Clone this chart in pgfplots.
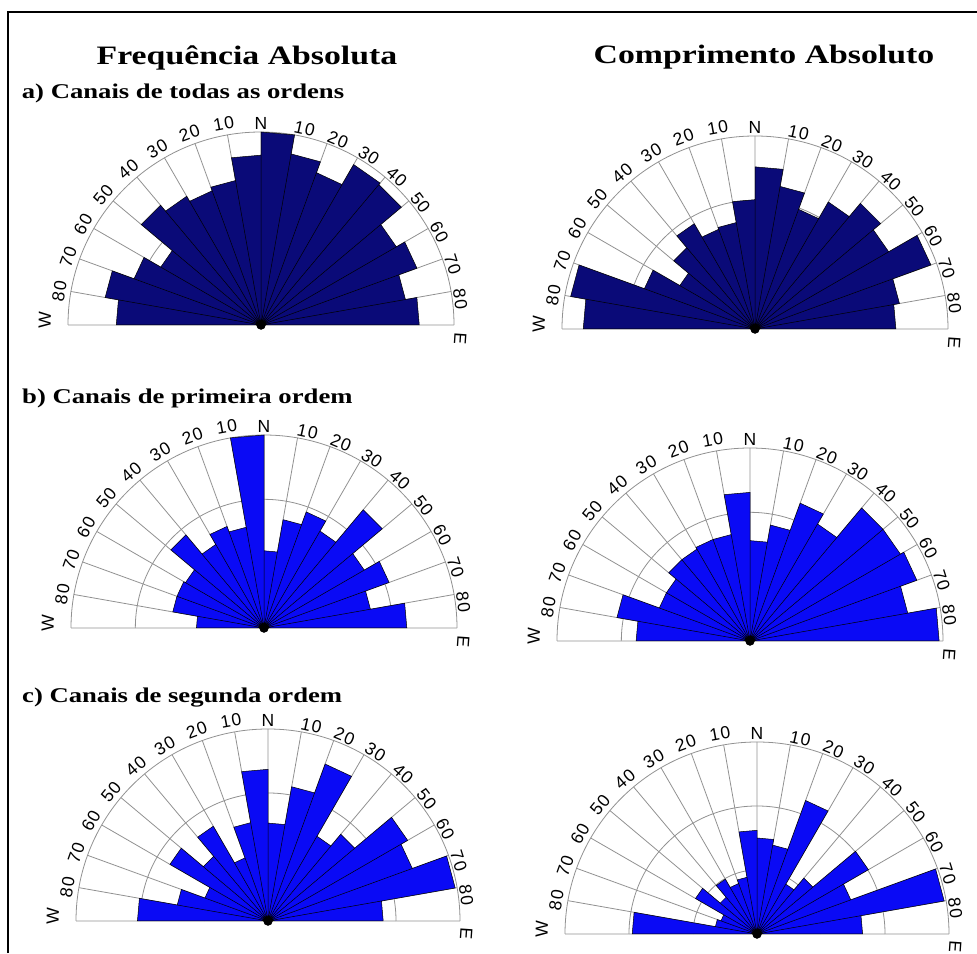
\documentclass[border=0pt]{standalone}
\usepackage{fontspec}
\usepackage{pgfplots}
\pgfplotsset{compat=1.18}
\setmainfont{Liberation Serif}
\newfontfamily\titlefont[FakeStretch=1.27]{Liberation Serif}
\newfontfamily\lblfont[LetterSpace=7]{Liberation Sans}
\definecolor{navyc}{RGB}{10,10,120}
\definecolor{bluec}{RGB}{10,10,245}
\definecolor{gridc}{RGB}{145,145,145}
\tikzset{lbl/.style={font=\lblfont\fontsize{17.5}{18}\selectfont, inner sep=0pt}}
\pgfplotsset{rose/.style={scale only axis, xmin=-1, xmax=1, ymin=0, ymax=1,
  hide axis, clip=false, anchor=origin}}
\newcommand{\grid}[1]{%
  \addplot[gridc, line width=0.8pt, data cs=polar] coordinates {(0,0)(0,1)(0,0)(10,1)(0,0)(20,1)(0,0)(30,1)(0,0)(40,1)(0,0)(50,1)(0,0)(60,1)(0,0)(70,1)(0,0)(80,1)(0,0)(90,1)(0,0)(100,1)(0,0)(110,1)(0,0)(120,1)(0,0)(130,1)(0,0)(140,1)(0,0)(150,1)(0,0)(160,1)(0,0)(170,1)(0,0)(180,1)};
  \draw[gridc, line width=0.8pt] (axis cs:1,0) arc[start angle=0,end angle=180,radius=#1pt];
  \draw[gridc, line width=0.8pt] (axis cs:0.6667,0) arc[start angle=0,end angle=180,radius=#1*0.6667pt];
  \draw[gridc, line width=0.8pt] (axis cs:0.3333,0) arc[start angle=0,end angle=180,radius=#1*0.3333pt];
}
\newcommand{\centerdot}{\addplot[only marks, mark=*, mark size=4.5pt, black, data cs=polar] coordinates {(0,0)};}
\newcommand{\roselabels}[3]{%
  \pgfmathsetmacro{\rr}{#3+1.5}%
  \pgfmathsetmacro{\rl}{#3+5}%
  \pgfmathsetmacro{\rn}{#3+2.5}%
  \pgfmathsetmacro{\rw}{#3+17}%
  \pgfmathsetmacro{\re}{#3+0.5}%
  \foreach \a/\t in {80/10,70/20,60/30,50/40,40/50,30/60,20/70,10/80}{%
    \pgfmathsetmacro{\ang}{\a-2.5}%
    \node[lbl,rotate=\ang-90,anchor=south] at ([shift={(\ang:\rr)}]#1,#2) {\t};}
  \foreach \a/\t in {100/10,110/20,120/30,130/40,140/50,150/60,160/70,170/80}{%
    \pgfmathsetmacro{\ang}{\a+0.5}%
    \node[lbl,rotate=\ang-90,anchor=south] at ([shift={(\ang:\rl)}]#1,#2) {\t};}
  \node[lbl,anchor=south] at ([shift={(90:\rn)}]#1,#2) {N};
  \node[lbl,rotate=88.7,anchor=south] at ([shift={(178.7:\rw)}]#1,#2) {W};
  \node[lbl,rotate=-93.8,anchor=south] at ([shift={(-3.8:\re)}]#1,#2) {E};
}
\begin{document}
\begin{tikzpicture}[x=1pt,y=1pt]
\useasboundingbox (0,0) rectangle (977,953);
\draw[line width=1.5pt] (8,0) -- (8,941) -- (977,941);
\node[anchor=base, font=\titlefont\bfseries\fontsize{26.6}{30}\selectfont] at (247,888) {Frequência Absoluta};
\node[anchor=base, font=\titlefont\bfseries\fontsize{26.6}{30}\selectfont] at (764,889) {Comprimento Absoluto};
\node[anchor=base west, inner sep=0pt, font=\titlefont\bfseries\fontsize{21}{24}\selectfont] at (21.7,854) {a) Canais de todas as ordens};
\node[anchor=base west, inner sep=0pt, font=\titlefont\bfseries\fontsize{21}{24}\selectfont] at (22,549) {b) Canais de primeira ordem};
\node[anchor=base west, inner sep=0pt, font=\titlefont\bfseries\fontsize{21}{24}\selectfont] at (22,250) {c) Canais de segunda ordem};

% a) Frequencia
\begin{axis}[rose, at={(261pt,628pt)}, width=386pt, height=193pt]
\grid{193}
\addplot[fill=navyc, draw=black, line width=0.5pt, data cs=polar] coordinates {
(0,0) (180,0.75) (170,0.75) (0,0) (170,0.82) (160,0.82) (0,0) (160,0.70) (150,0.70) (0,0) (150,0.60) (140,0.60) (0,0) (140,0.81) (130,0.81) (0,0) (130,0.77) (120,0.77) (0,0) (120,0.74) (110,0.74) (0,0) (110,0.76) (100,0.76) (0,0) (100,0.88) (90,0.88) (0,0) (90,1.00) (80,1.00) (0,0) (80,0.90) (70,0.90) (0,0) (70,0.84) (60,0.84) (0,0) (60,0.96) (50,0.96) (0,0) (50,0.95) (40,0.95) (0,0) (40,0.81) (30,0.81) (0,0) (30,0.86) (20,0.86) (0,0) (20,0.76) (10,0.76) (0,0) (10,0.82) (0,0.82) (0,0)};
\centerdot
\end{axis}
\roselabels{261}{628}{193}

% a) Comprimento
\begin{axis}[rose, at={(755pt,624pt)}, width=386pt, height=193pt]
\grid{193}
\addplot[fill=navyc, draw=black, line width=0.5pt, data cs=polar] coordinates {
(0,0) (180,0.89) (170,0.89) (0,0) (170,0.97) (160,0.97) (0,0) (160,0.61) (150,0.61) (0,0) (150,0.45) (140,0.45) (0,0) (140,0.55) (130,0.55) (0,0) (130,0.63) (120,0.63) (0,0) (120,0.55) (110,0.55) (0,0) (110,0.56) (100,0.56) (0,0) (100,0.67) (90,0.67) (0,0) (90,0.84) (80,0.84) (0,0) (80,0.75) (70,0.75) (0,0) (70,0.66) (60,0.66) (0,0) (60,0.76) (50,0.76) (0,0) (50,0.85) (40,0.85) (0,0) (40,0.80) (30,0.80) (0,0) (30,0.97) (20,0.97) (0,0) (20,0.76) (10,0.76) (0,0) (10,0.73) (0,0.73) (0,0)};
\centerdot
\end{axis}
\roselabels{755}{624}{193}

% b) Frequencia
\begin{axis}[rose, at={(264pt,325pt)}, width=386pt, height=193pt]
\grid{193}
\addplot[fill=bluec, draw=black, line width=0.5pt, data cs=polar] coordinates {
(0,0) (180,0.35) (170,0.35) (0,0) (170,0.48) (160,0.48) (0,0) (160,0.48) (150,0.48) (0,0) (150,0.47) (140,0.47) (0,0) (140,0.63) (130,0.63) (0,0) (130,0.50) (120,0.50) (0,0) (120,0.56) (110,0.56) (0,0) (110,0.53) (100,0.53) (0,0) (100,1.00) (90,1.00) (0,0) (90,0.40) (80,0.40) (0,0) (80,0.57) (70,0.57) (0,0) (70,0.64) (60,0.64) (0,0) (60,0.58) (50,0.58) (0,0) (50,0.80) (40,0.80) (0,0) (40,0.60) (30,0.60) (0,0) (30,0.69) (20,0.69) (0,0) (20,0.56) (10,0.56) (0,0) (10,0.74) (0,0.74) (0,0)};
\centerdot
\end{axis}
\roselabels{264}{325}{193}

% b) Comprimento
\begin{axis}[rose, at={(750pt,312pt)}, width=386pt, height=193pt]
\grid{193}
\addplot[fill=bluec, draw=black, line width=0.5pt, data cs=polar] coordinates {
(0,0) (180,0.59) (170,0.59) (0,0) (170,0.70) (160,0.70) (0,0) (160,0.50) (150,0.50) (0,0) (150,0.50) (140,0.50) (0,0) (140,0.55) (130,0.55) (0,0) (130,0.55) (120,0.55) (0,0) (120,0.56) (110,0.56) (0,0) (110,0.56) (100,0.56) (0,0) (100,0.77) (90,0.77) (0,0) (90,0.52) (80,0.52) (0,0) (80,0.61) (70,0.61) (0,0) (70,0.76) (60,0.76) (0,0) (60,0.70) (50,0.70) (0,0) (50,0.90) (40,0.90) (0,0) (40,0.90) (30,0.90) (0,0) (30,0.92) (20,0.92) (0,0) (20,0.83) (10,0.83) (0,0) (10,0.98) (0,0.98) (0,0)};
\centerdot
\end{axis}
\roselabels{750}{312}{193}

% c) Frequencia
\begin{axis}[rose, at={(268pt,32pt)}, width=384pt, height=192pt]
\grid{192}
\addplot[fill=bluec, draw=black, line width=0.5pt, data cs=polar] coordinates {
(0,0) (180,0.68) (170,0.68) (0,0) (170,0.48) (160,0.48) (0,0) (160,0.35) (150,0.35) (0,0) (150,0.59) (140,0.59) (0,0) (140,0.44) (130,0.44) (0,0) (130,0.57) (120,0.57) (0,0) (120,0.35) (110,0.35) (0,0) (110,0.52) (100,0.52) (0,0) (100,0.79) (90,0.79) (0,0) (90,0.51) (80,0.51) (0,0) (80,0.71) (70,0.71) (0,0) (70,0.87) (60,0.87) (0,0) (60,0.51) (50,0.51) (0,0) (50,0.59) (40,0.59) (0,0) (40,0.84) (30,0.84) (0,0) (30,0.80) (20,0.80) (0,0) (20,0.99) (10,0.99) (0,0) (10,0.60) (0,0.60) (0,0)};
\centerdot
\end{axis}
\roselabels{268}{32}{192}

% c) Comprimento
\begin{axis}[rose, at={(757pt,19pt)}, width=384pt, height=192pt]
\grid{192}
\addplot[fill=bluec, draw=black, line width=0.5pt, data cs=polar] coordinates {
(0,0) (180,0.65) (170,0.65) (0,0) (170,0.22) (160,0.22) (0,0) (160,0.20) (150,0.20) (0,0) (150,0.37) (140,0.37) (0,0) (140,0.25) (130,0.25) (0,0) (130,0.33) (120,0.33) (0,0) (120,0.28) (110,0.28) (0,0) (110,0.30) (100,0.30) (0,0) (100,0.54) (90,0.54) (0,0) (90,0.50) (80,0.50) (0,0) (80,0.47) (70,0.47) (0,0) (70,0.74) (60,0.74) (0,0) (60,0.30) (50,0.30) (0,0) (50,0.38) (40,0.38) (0,0) (40,0.67) (30,0.67) (0,0) (30,0.52) (20,0.52) (0,0) (20,0.99) (10,0.99) (0,0) (10,0.55) (0,0.55) (0,0)};
\centerdot
\end{axis}
\roselabels{757}{19}{192}
\end{tikzpicture}
\end{document}
